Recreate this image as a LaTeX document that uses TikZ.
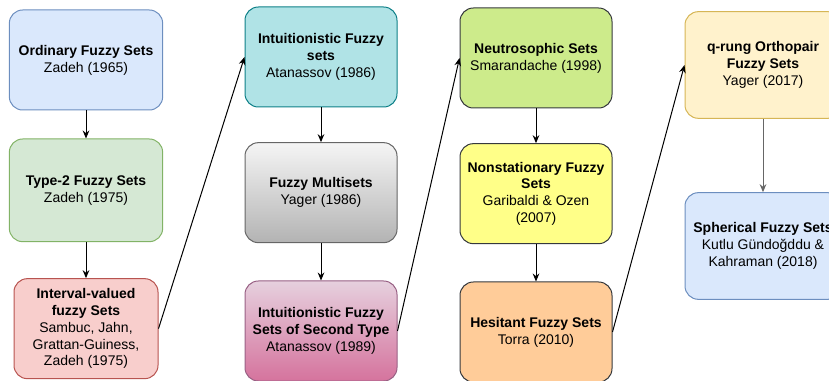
\documentclass[tikz,border=0pt]{standalone}
\usepackage{fontspec}
\setmainfont{Liberation Sans}
\usetikzlibrary{positioning,arrows.meta}

\definecolor{ofsFill}{HTML}{DAE8FC}
\definecolor{ofsLine}{HTML}{6C8EBF}
\definecolor{tfsFill}{HTML}{D5E8D4}
\definecolor{tfsLine}{HTML}{82B366}
\definecolor{ivfsFill}{HTML}{F8CECC}
\definecolor{ivfsLine}{HTML}{B85450}
\definecolor{ifsFill}{HTML}{B0E3E6}
\definecolor{ifsLine}{HTML}{0E8088}
\definecolor{fmsTop}{HTML}{F5F5F5}
\definecolor{fmsBottom}{HTML}{B3B3B3}
\definecolor{fmsLine}{HTML}{666666}
\definecolor{ifstTop}{HTML}{E6D0DE}
\definecolor{ifstBottom}{HTML}{D5739D}
\definecolor{ifstLine}{HTML}{996185}
\definecolor{nsFill}{HTML}{CDEB8B}
\definecolor{nfsFill}{HTML}{FFFF88}
\definecolor{hfsFill}{HTML}{FFCC99}
\definecolor{darkLine}{HTML}{36393D}
\definecolor{qrofsFill}{HTML}{FFF2CC}
\definecolor{qrofsLine}{HTML}{D6B656}
\definecolor{arrowGrey}{HTML}{666666}

\tikzset{
    module/.style={%
        draw, rounded corners=10pt,
        line width=0.75pt,
        minimum width=#1,
        minimum height=75pt,
        align=center,
        font=\fontsize{10.5pt}{12.6pt}\selectfont
        },
    module/.default=114pt,
    link/.style={->, line width=0.75pt},
    >={Stealth[length=6pt,width=5pt]}
}

\begin{document}
\begin{tikzpicture}[x=0.75pt,y=-0.75pt]

\useasboundingbox (0,0) rectangle (829,381);

% first column
\node[module=115pt, fill=ofsFill, draw=ofsLine] (OFS) at (86,60) {\textbf{Ordinary Fuzzy Sets}\\Zadeh (1965)};

\node[module=115pt, fill=tfsFill, draw=tfsLine, minimum height=77pt, below=21pt of OFS] (TFS) {\textbf{Type-2 Fuzzy Sets}\\Zadeh (1975)};

\node[module=108pt, fill=ivfsFill, draw=ivfsLine, below=27pt of TFS] (IVFS) {\textbf{Interval-valued}\\\textbf{fuzzy Sets}\\Sambuc, Jahn,\\Grattan-Guiness,\\Zadeh (1975)};

% second column
\node[module, fill=ifsFill, draw=ifsLine] (IFS) at (321,57) {\textbf{Intuitionistic Fuzzy}\\\textbf{sets}\\Atanassov (1986)};

\node[module, top color=fmsTop, bottom color=fmsBottom, draw=fmsLine, below=26pt of IFS] (FMS) {\textbf{Fuzzy Multisets}\\Yager (1986)};

\node[module, top color=ifstTop, bottom color=ifstBottom, draw=ifstLine, below=28pt of FMS] (IFST) {\textbf{Intuitionistic Fuzzy}\\\textbf{Sets of Second Type}\\Atanassov (1989)};

% third column
\node[module, fill=nsFill, draw=darkLine] (NS) at (536,58) {\textbf{Neutrosophic Sets}\\Smarandache (1998)};

\node[module, fill=nfsFill, draw=darkLine, below=26pt of NS] (NFS) {\textbf{Nonstationary Fuzzy}\\\textbf{Sets}\\Garibaldi \& Ozen\\(2007)};

\node[module, fill=hfsFill, draw=darkLine, below=28pt of NFS] (HFS) {\textbf{Hesitant Fuzzy Sets}\\Torra (2010)};

% fourth column
\node[module=117pt, fill=qrofsFill, draw=qrofsLine, minimum height=80pt] (QROFS) at (763,65) {\textbf{q-rung Orthopair}\\\textbf{Fuzzy Sets}\\Yager (2017)};

\node[module=117pt, fill=ofsFill, draw=ofsLine, minimum height=80pt, below=55pt of QROFS] (SFS) {\textbf{Spherical Fuzzy Sets}\\Kutlu Gündoğddu \&\\Kahraman (2018)};

% connectors
\draw[link] (OFS) -- (TFS);
\draw[link] (TFS) -- (IVFS);
\draw[link] (IVFS.east) -- (IFS.west);

\draw[link] (IFS) -- (FMS);
\draw[link] (FMS) -- (IFST);
\draw[link] (IFST.east) -- (NS.west);

\draw[link] (NS) -- (NFS);
\draw[link] (NFS) -- (HFS);
\draw[link] (HFS.east) -- (QROFS.west);

\draw[link, draw=arrowGrey] (QROFS) -- (SFS);

\end{tikzpicture}
\end{document}
